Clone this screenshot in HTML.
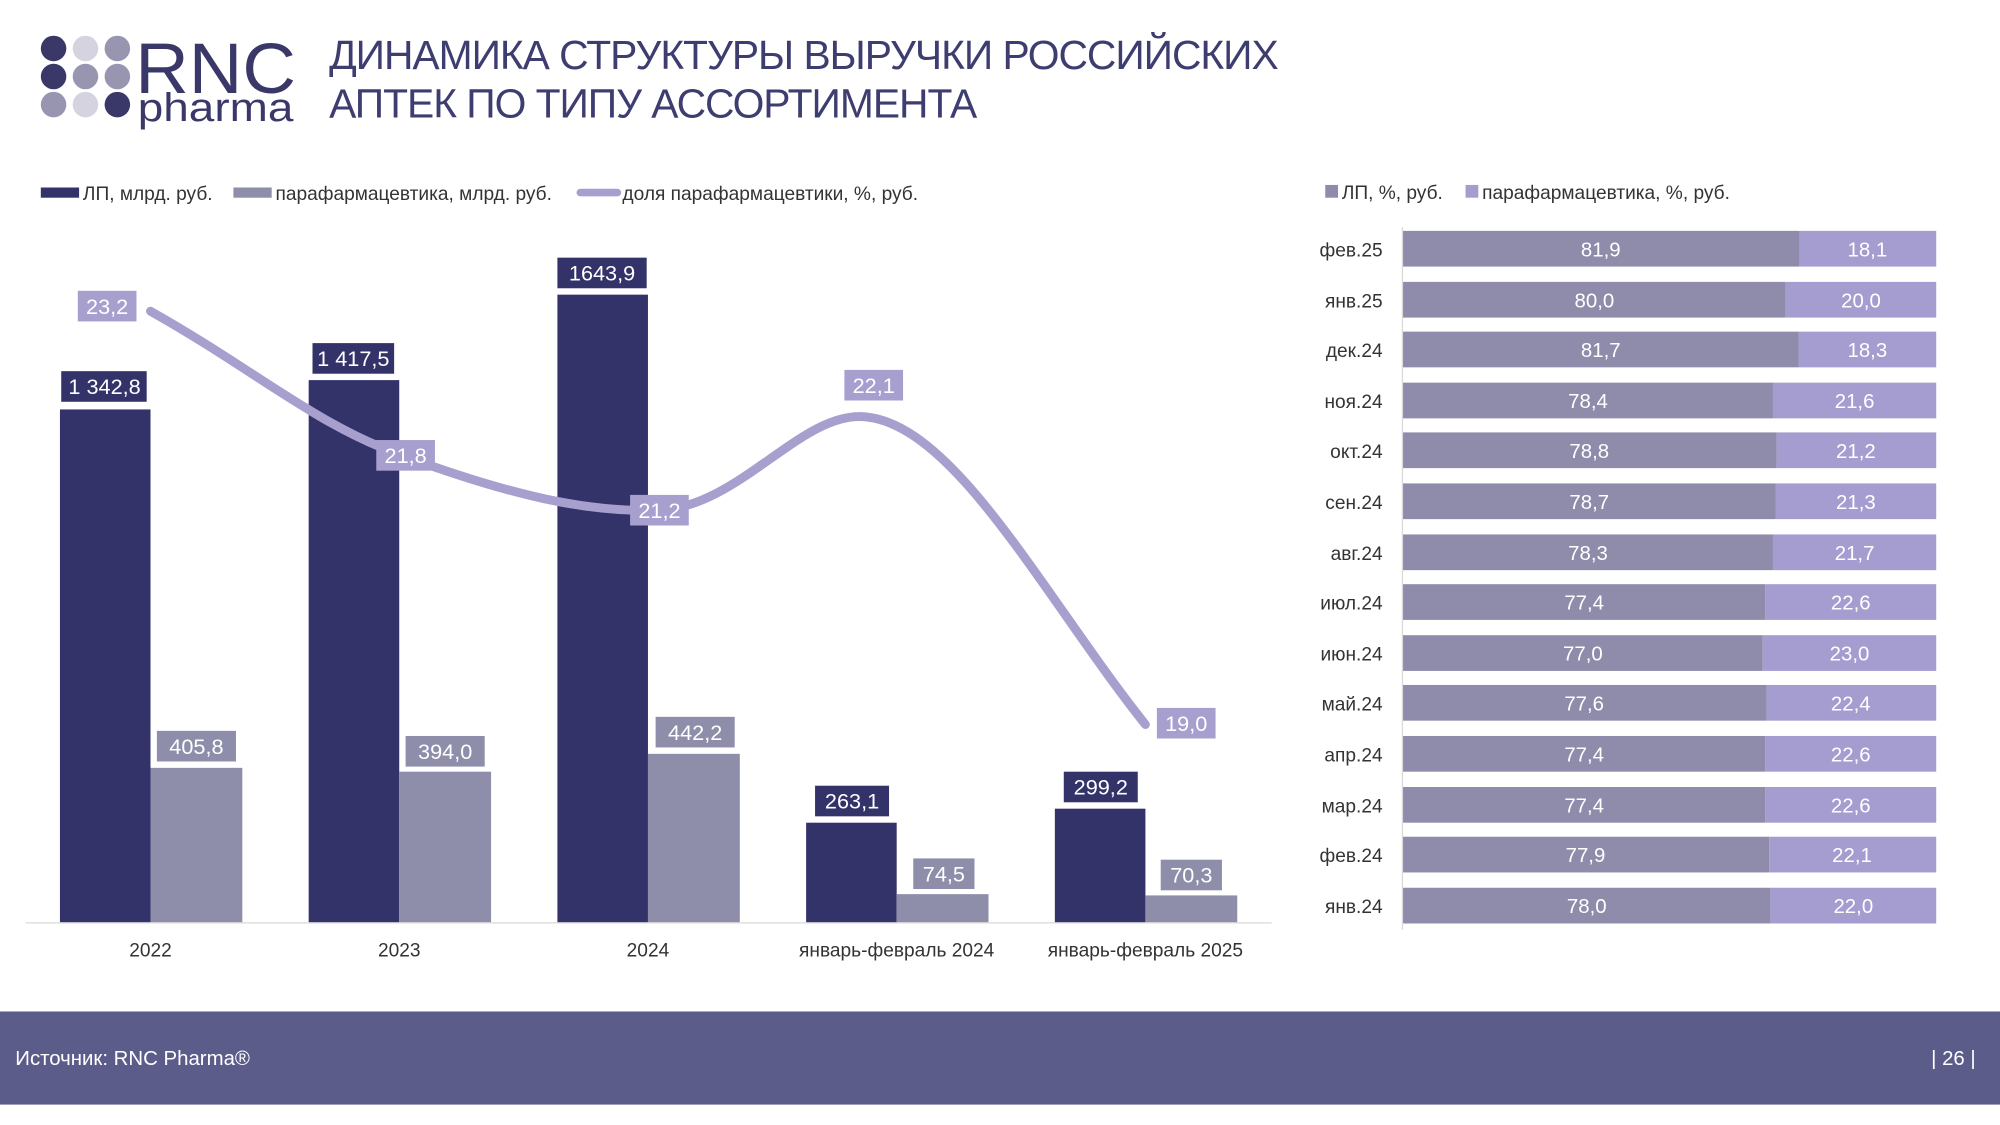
<!DOCTYPE html>
<html><head><meta charset="utf-8"><style>
html,body{margin:0;padding:0;background:#fff;}
svg{display:block;font-family:"Liberation Sans",sans-serif;}
</style></head><body>
<svg width="2000" height="1125" viewBox="0 0 1568 882" xmlns="http://www.w3.org/2000/svg">
<rect width="1568" height="882" fill="#fff"/>
<g>
<circle cx="42" cy="38" r="10" fill="#3a3868"/><circle cx="67" cy="38" r="10" fill="#d4d3df"/><circle cx="92" cy="38" r="10" fill="#9795b0"/>
<circle cx="42" cy="60" r="10" fill="#3a3868"/><circle cx="67" cy="60" r="10" fill="#9795b0"/><circle cx="92" cy="60" r="10" fill="#9795b0"/>
<circle cx="42" cy="82" r="10" fill="#9795b0"/><circle cx="67" cy="82" r="10" fill="#d4d3df"/><circle cx="92" cy="82" r="10" fill="#3a3868"/>
<text x="106" y="73" font-size="56" fill="#3a3868" textLength="126" lengthAdjust="spacingAndGlyphs">RNC</text>
<text x="108" y="95" font-size="31" fill="#3a3868" textLength="122" lengthAdjust="spacingAndGlyphs">pharma</text>
</g>
<text x="258" y="54" font-size="32" fill="#3d3d70" letter-spacing="-0.8">ДИНАМИКА СТРУКТУРЫ ВЫРУЧКИ РОССИЙСКИХ</text>
<text x="258" y="92" font-size="32" fill="#3d3d70" letter-spacing="-0.8">АПТЕК ПО ТИПУ АССОРТИМЕНТА</text>
<g font-size="15" fill="#333">
<rect x="32" y="147" width="30" height="8" fill="#33336a"/><text x="65" y="157">ЛП, млрд. руб.</text>
<rect x="183" y="147" width="30" height="8" fill="#8e8eaa"/><text x="216" y="157">парафармацевтика, млрд. руб.</text>
<line x1="455" y1="151" x2="484" y2="151" stroke="#a7a0cf" stroke-width="6" stroke-linecap="round"/><text x="488" y="157">доля парафармацевтики, %, руб.</text>
</g>
<line x1="20" y1="723.5" x2="997" y2="723.5" stroke="#d9d9d9" stroke-width="1"/>
<g fill="#33336a">
<rect x="47" y="321" width="71" height="402"/>
<rect x="242" y="298" width="71" height="425"/>
<rect x="437" y="231" width="71" height="492"/>
<rect x="632" y="645" width="71" height="78"/>
<rect x="827" y="634" width="71" height="89"/>
</g>
<g fill="#8e8eaa">
<rect x="118" y="602" width="72" height="121"/>
<rect x="313" y="605" width="72" height="118"/>
<rect x="508" y="591" width="72" height="132"/>
<rect x="703" y="701" width="72" height="22"/>
<rect x="898" y="702" width="72" height="21"/>
</g>
<path d="M118,244 C200,290 250,335 318,358 C400,388 460,402 516,400 C580,398 630,320 680,327 C750,335 820,470 898,568" fill="none" stroke="#a7a0cf" stroke-width="7" stroke-linecap="round"/>
<g font-size="17" fill="#fff" text-anchor="middle">
<rect x="48" y="291" width="67" height="24" fill="#33336a"/><text x="82" y="309">1 342,8</text>
<rect x="245" y="269" width="64" height="24" fill="#33336a"/><text x="277" y="287">1 417,5</text>
<rect x="437" y="202" width="70" height="24" fill="#33336a"/><text x="472" y="220">1643,9</text>
<rect x="639" y="616" width="58" height="24" fill="#33336a"/><text x="668" y="634">263,1</text>
<rect x="834" y="605" width="58" height="24" fill="#33336a"/><text x="863" y="623">299,2</text>
<rect x="123" y="573" width="62" height="24" fill="#8e8eaa"/><text x="154" y="591">405,8</text>
<rect x="318" y="577" width="62" height="24" fill="#8e8eaa"/><text x="349" y="595">394,0</text>
<rect x="514" y="562" width="62" height="24" fill="#8e8eaa"/><text x="545" y="580">442,2</text>
<rect x="716" y="673" width="48" height="24" fill="#8e8eaa"/><text x="740" y="691">74,5</text>
<rect x="910" y="674" width="48" height="24" fill="#8e8eaa"/><text x="934" y="692">70,3</text>
<rect x="61" y="228" width="46" height="24" fill="#a7a0cf"/><text x="84" y="246">23,2</text>
<rect x="295" y="345" width="46" height="24" fill="#a7a0cf"/><text x="318" y="363">21,8</text>
<rect x="494" y="388" width="46" height="24" fill="#a7a0cf"/><text x="517" y="406">21,2</text>
<rect x="662" y="290" width="46" height="24" fill="#a7a0cf"/><text x="685" y="308">22,1</text>
<rect x="907" y="555" width="46" height="24" fill="#a7a0cf"/><text x="930" y="573">19,0</text>
</g>
<g font-size="15" fill="#333" text-anchor="middle">
<text x="118" y="750">2022</text><text x="313" y="750">2023</text><text x="508" y="750">2024</text>
<text x="703" y="750">январь-февраль 2024</text><text x="898" y="750">январь-февраль 2025</text>
</g>
<g font-size="15" fill="#333">
<rect x="1039" y="145" width="10" height="10" fill="#8e8caa"/><text x="1052" y="156">ЛП, %, руб.</text>
<rect x="1149" y="145" width="10" height="10" fill="#a59dcf"/><text x="1162" y="156">парафармацевтика, %, руб.</text>
</g>
<line x1="1099.5" y1="178" x2="1099.5" y2="729" stroke="#d9d9d9"/>
<g font-size="16">
<rect x="1100" y="181" width="311" height="28" fill="#8e8caa"/><rect x="1411" y="181" width="107" height="28" fill="#a59dcf"/>
<rect x="1100" y="221" width="300" height="28" fill="#8e8caa"/><rect x="1400" y="221" width="118" height="28" fill="#a59dcf"/>
<rect x="1100" y="260" width="310" height="28" fill="#8e8caa"/><rect x="1410" y="260" width="108" height="28" fill="#a59dcf"/>
<rect x="1100" y="300" width="290" height="28" fill="#8e8caa"/><rect x="1390" y="300" width="128" height="28" fill="#a59dcf"/>
<rect x="1100" y="339" width="293" height="28" fill="#8e8caa"/><rect x="1393" y="339" width="125" height="28" fill="#a59dcf"/>
<rect x="1100" y="379" width="292" height="28" fill="#8e8caa"/><rect x="1392" y="379" width="126" height="28" fill="#a59dcf"/>
<rect x="1100" y="419" width="290" height="28" fill="#8e8caa"/><rect x="1390" y="419" width="128" height="28" fill="#a59dcf"/>
<rect x="1100" y="458" width="284" height="28" fill="#8e8caa"/><rect x="1384" y="458" width="134" height="28" fill="#a59dcf"/>
<rect x="1100" y="498" width="282" height="28" fill="#8e8caa"/><rect x="1382" y="498" width="136" height="28" fill="#a59dcf"/>
<rect x="1100" y="537" width="285" height="28" fill="#8e8caa"/><rect x="1385" y="537" width="133" height="28" fill="#a59dcf"/>
<rect x="1100" y="577" width="284" height="28" fill="#8e8caa"/><rect x="1384" y="577" width="134" height="28" fill="#a59dcf"/>
<rect x="1100" y="617" width="284" height="28" fill="#8e8caa"/><rect x="1384" y="617" width="134" height="28" fill="#a59dcf"/>
<rect x="1100" y="656" width="287" height="28" fill="#8e8caa"/><rect x="1387" y="656" width="131" height="28" fill="#a59dcf"/>
<rect x="1100" y="696" width="288" height="28" fill="#8e8caa"/><rect x="1388" y="696" width="130" height="28" fill="#a59dcf"/>
<g fill="#fff" text-anchor="middle">
<text x="1255" y="201">81,9</text><text x="1464" y="201">18,1</text>
<text x="1250" y="241">80,0</text><text x="1459" y="241">20,0</text>
<text x="1255" y="280">81,7</text><text x="1464" y="280">18,3</text>
<text x="1245" y="320">78,4</text><text x="1454" y="320">21,6</text>
<text x="1246" y="359">78,8</text><text x="1455" y="359">21,2</text>
<text x="1246" y="399">78,7</text><text x="1455" y="399">21,3</text>
<text x="1245" y="439">78,3</text><text x="1454" y="439">21,7</text>
<text x="1242" y="478">77,4</text><text x="1451" y="478">22,6</text>
<text x="1241" y="518">77,0</text><text x="1450" y="518">23,0</text>
<text x="1242" y="557">77,6</text><text x="1451" y="557">22,4</text>
<text x="1242" y="597">77,4</text><text x="1451" y="597">22,6</text>
<text x="1242" y="637">77,4</text><text x="1451" y="637">22,6</text>
<text x="1243" y="676">77,9</text><text x="1452" y="676">22,1</text>
<text x="1244" y="716">78,0</text><text x="1453" y="716">22,0</text>
</g>
<g fill="#333" text-anchor="end" font-size="15">
<text x="1084" y="201">фев.25</text><text x="1084" y="241">янв.25</text><text x="1084" y="280">дек.24</text>
<text x="1084" y="320">ноя.24</text><text x="1084" y="359">окт.24</text><text x="1084" y="399">сен.24</text>
<text x="1084" y="439">авг.24</text><text x="1084" y="478">июл.24</text><text x="1084" y="518">июн.24</text>
<text x="1084" y="557">май.24</text><text x="1084" y="597">апр.24</text><text x="1084" y="637">мар.24</text>
<text x="1084" y="676">фев.24</text><text x="1084" y="716">янв.24</text>
</g>
</g>
<rect x="0" y="793" width="1568" height="73" fill="#5c5c8a"/>
<text x="12" y="835" font-size="16" fill="#fff">Источник: RNC Pharma®</text>
<text x="1514" y="835" font-size="16" fill="#fff">| 26 |</text>
</svg>
</body></html>
